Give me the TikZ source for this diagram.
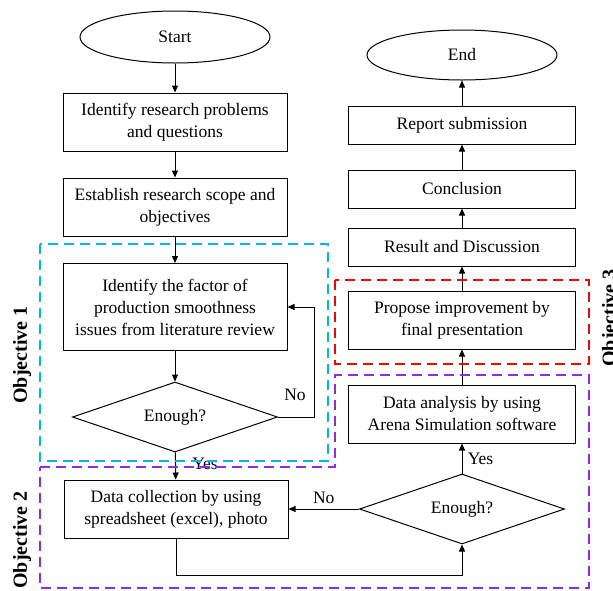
\documentclass[tikz,border=0pt]{standalone}
\usepackage{fontspec}
\setmainfont{Liberation Serif}
\usetikzlibrary{shapes.geometric,arrows.meta}

\definecolor{objcyan}{RGB}{0,185,240}
\definecolor{objred}{RGB}{255,0,0}
\definecolor{objpurple}{RGB}{150,40,235}

\begin{document}
\begin{tikzpicture}[x=1pt,y=-1pt,
    font=\fontsize{17.5}{22}\selectfont,
    box/.style={draw,line width=1pt,align=center,inner sep=2pt},
    leftbox/.style={box,minimum width=224pt,minimum height=58pt},
    rightbox/.style={box,minimum width=227pt,minimum height=58pt},
    smallbox/.style={box,minimum width=227pt,minimum height=38pt},
    term/.style={draw,line width=1pt,ellipse,minimum width=190pt,minimum height=52pt},
    decision/.style={draw,line width=1pt,diamond,aspect=3,inner sep=0pt,minimum width=205pt,minimum height=70pt},
    arr/.style={line width=1pt,-{Triangle[length=7pt,width=6pt]}},
    frame/.style={line width=1.8pt,dash pattern=on 10pt off 6pt},
    objlabel/.style={rotate=90,font=\fontsize{20}{22}\selectfont\bfseries}]

    \useasboundingbox (0,0) rectangle (613,590);

    % left column
    \node[term] (start) at (175,37) {Start};
    \node[leftbox] (prob) at (175,122) {Identify research problems\\and questions};
    \node[leftbox] (scope) at (175,207) {Establish research scope and\\objectives};
    \node[leftbox,minimum height=87pt] (factor) at (175,307) {Identify the factor of\\production smoothness\\issues from literature review};
    \node[decision] (enough1) at (175,417) {Enough?};
    \node[leftbox] (collect) at (176,509) {Data collection by using\\spreadsheet (excel), photo};

    % right column
    \node[decision] (enough2) at (462,509) {Enough?};
    \node[rightbox] (analysis) at (462,414) {Data analysis by using\\Arena Simulation software};
    \node[rightbox] (propose) at (462,320) {Propose improvement by\\final presentation};
    \node[smallbox] (result) at (462,247) {Result and Discussion};
    \node[smallbox] (concl) at (462,189) {Conclusion};
    \node[smallbox] (report) at (462,125) {Report submission};
    \node[term,minimum height=50pt] (end) at (462,55) {End};

    \draw[arr] (start) -- (prob);
    \draw[arr] (prob) -- (scope);
    \draw[arr] (scope) -- (factor);
    \draw[arr] (factor) -- (enough1);
    \draw[arr] (enough1.east) -- ++(36,0) |- (factor.east);
    \node (no1) at (295,395) {No};
    \draw[arr] (enough1) -- (collect);
    \node (yes1) at (205,464) {Yes};

    \draw[arr] (collect.south) -- ++(0,37) -| (enough2.south);
    \draw[arr] (enough2) -- node[above=2pt] (no2) {No} (collect);
    \draw[arr] (enough2) -- node[right=2pt] (yes2) {Yes} (analysis);
    \draw[arr] (analysis) -- (propose);
    \draw[arr] (propose) -- (result);
    \draw[arr] (result) -- (concl);
    \draw[arr] (concl) -- (report);
    \draw[arr] (report) -- (end);

    % objective frames
    \draw[frame,objcyan] (40,244) rectangle (328,461);
    \draw[frame,objred] (335,280) rectangle (589,364);
    \draw[frame,objpurple] (40,467) -- (335,467) -- (335,375) -- (589,375)
        -- (589,588) -- (40,588) -- cycle;

    \node[objlabel] (obj1) at (22,355) {Objective 1};
    \node[objlabel] (obj2) at (22,540) {Objective 2};
    \node[objlabel] (obj3) at (611,318) {Objective 3};

\end{tikzpicture}
\end{document}
